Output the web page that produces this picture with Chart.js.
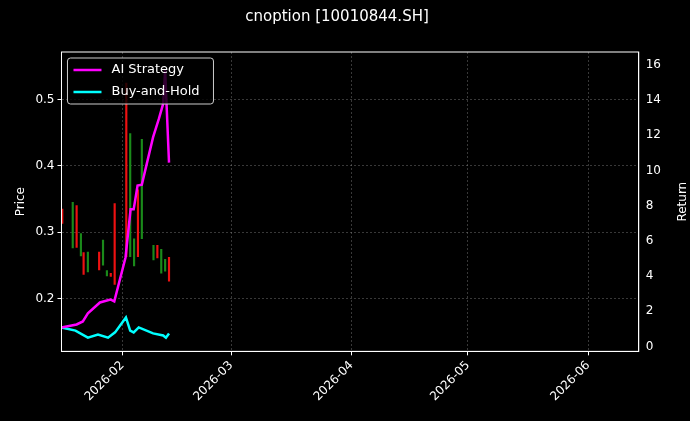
<!DOCTYPE html>
<html>
<head>
<script src="https://cdn.jsdelivr.net/npm/chart.js@4"></script>
<style>body{margin:0;background:#000}</style>
</head>
<body>
<canvas id="c" width="690" height="421"></canvas>
<script>
// x values are day numbers of 2026 (Jan 1 = 0)
let candleDays = [15.5, 18.2, 19.2, 20.3, 21, 22.1, 25, 26, 27, 28, 29, 32, 33, 34, 35, 36, 39, 40, 41, 42, 43];
let candleLow  = [0.313, 0.276, 0.277, 0.264, 0.236, 0.240, 0.243, 0.250, 0.234, 0.238, 0.221, 0.263, 0.263, 0.249, 0.263, 0.290, 0.258, 0.280, 0.274, 0.259, 0.226];
let candleHigh = [0.335, 0.345, 0.340, 0.298, 0.269, 0.270, 0.270, 0.288, 0.242, 0.233, 0.343, 0.525, 0.449, 0.290, 0.364, 0.440, 0.280, 0.261, 0.238, 0.241, 0.262];
let candleUp   = [false, true, false, true, false, true, false, true, true, false, false, false, true, true, false, true, true, false, true, true, false];

let aiDays = [15.3, 19.2, 20.8, 22.1, 25.2, 27.9, 28.9, 31.8, 33.1, 33.9, 34.9, 36, 38.9, 40.4, 41.5, 42, 43];
let aiReturn = [1.08, 1.25, 1.42, 1.88, 2.5, 2.67, 2.56, 5.06, 7.8, 7.8, 9.15, 9.2, 11.9, 12.95, 13.8, 15.7, 10.45];
let bhDays = [15.3, 18.9, 22.1, 24.7, 27.3, 29.1, 31.9, 33, 33.9, 35.2, 38.9, 41.5, 42.2, 43];
let bhReturn = [1.08, 0.9, 0.5, 0.68, 0.5, 0.8, 1.65, 0.9, 0.8, 1.08, 0.74, 0.62, 0.5, 0.74];

let monthTicks = [31, 59, 90, 120, 151];
let monthLabels = ['2026-02', '2026-03', '2026-04', '2026-05', '2026-06'];

// candle bodies were thin; show high-low as floating bars
let candleData = candleDays.map((d, i) => ({x: d, y: [candleLow[i], candleHigh[i]]}));
let candleColors = candleUp.map(u => u ? '#1a8a1a' : '#ee1111');

let legendBox = {
    id: 'legendBox',
    afterDraw(chart) {
        let ctx = chart.ctx, a = chart.chartArea;
        let x = a.left + 6, y = a.top + 6;
        ctx.save();
        ctx.fillStyle = 'rgba(0,0,0,0.8)';
        ctx.strokeStyle = '#cccccc';
        ctx.lineWidth = 1;
        ctx.beginPath();
        ctx.roundRect(x, y, 146, 46, 3);
        ctx.fill();
        ctx.stroke();
        let items = [['AI Strategy', '#ff00ff'], ['Buy-and-Hold', '#00ffff']];
        ctx.font = '13px "DejaVu Sans"';
        ctx.textBaseline = 'middle';
        items.forEach((it, i) => {
            let yy = y + 12 + i * 22;
            ctx.strokeStyle = it[1];
            ctx.lineWidth = 2.5;
            ctx.beginPath();
            ctx.moveTo(x + 6, yy);
            ctx.lineTo(x + 34, yy);
            ctx.stroke();
            ctx.fillStyle = '#ffffff';
            ctx.fillText(it[0], x + 44, yy);
        });
        // right axis title, reading bottom-to-top
        ctx.font = '12px "DejaVu Sans"';
        ctx.textAlign = 'center';
        ctx.translate(a.right + 44, (a.top + a.bottom) / 2);
        ctx.rotate(-Math.PI / 2);
        ctx.fillText('Return', 0, 0);
        ctx.restore();
    }
};

let chart = new Chart(document.getElementById('c').getContext('2d'), {
    data: {
        datasets: [
            {type: 'line', label: 'AI Strategy', data: aiDays.map((d, i) => ({x: d, y: aiReturn[i]})),
             borderColor: '#ff00ff', borderWidth: 2.5, pointRadius: 0, yAxisID: 'yRet', tension: 0},
            {type: 'line', label: 'Buy-and-Hold', data: bhDays.map((d, i) => ({x: d, y: bhReturn[i]})),
             borderColor: '#00ffff', borderWidth: 2.5, pointRadius: 0, yAxisID: 'yRet', tension: 0},
            {type: 'bar', label: 'Price', data: candleData, backgroundColor: candleColors,
             barThickness: 1.5, yAxisID: 'yPrice'}
        ]
    },
    options: {
        responsive: false,
        animation: false,
        layout: {padding: {left: 10, right: 26, top: 0, bottom: 14}},
        plugins: {
            legend: {display: false},
            tooltip: {enabled: false},
            title: {display: true, text: 'cnoption [10010844.SH]', color: '#ffffff',
                    font: {family: 'DejaVu Sans', size: 15, weight: 'normal'}, padding: {top: 8, bottom: 26}}
        },
        scales: {
            x: {
                type: 'linear', min: 15.3, max: 164, offset: false,
                afterBuildTicks: s => { s.ticks = monthTicks.map(v => ({value: v})); },
                ticks: {color: '#ffffff', font: {family: 'DejaVu Sans', size: 12}, maxRotation: 45, minRotation: 45,
                        callback: v => monthLabels[monthTicks.indexOf(v)]},
                grid: {offset: false, color: 'rgba(160,160,160,0.35)', tickColor: '#ffffff', tickLength: 4},
                border: {color: '#ffffff', dash: [2, 2]}
            },
            yPrice: {
                position: 'left', min: 0.12, max: 0.572,
                afterBuildTicks: s => { s.ticks = [0.2, 0.3, 0.4, 0.5].map(v => ({value: v})); },
                ticks: {color: '#ffffff', font: {family: 'DejaVu Sans', size: 12}, callback: v => v.toFixed(1)},
                title: {display: true, text: 'Price', color: '#ffffff', font: {family: 'DejaVu Sans', size: 12}},
                grid: {color: 'rgba(160,160,160,0.35)', tickColor: '#ffffff', tickLength: 4},
                border: {color: '#ffffff', dash: [2, 2]}
            },
            yRet: {
                position: 'right', min: -0.28, max: 16.74,
                afterBuildTicks: s => { s.ticks = [0, 2, 4, 6, 8, 10, 12, 14, 16].map(v => ({value: v})); },
                ticks: {color: '#ffffff', font: {family: 'DejaVu Sans', size: 12}},
                grid: {display: false, tickColor: '#ffffff', tickLength: 4},
                border: {color: '#ffffff'}
            }
        }
    },
    plugins: [legendBox, {
        id: 'frame',
        beforeDraw(c) { c.ctx.fillStyle = '#000'; c.ctx.fillRect(0, 0, c.width, c.height); },
        afterDraw(c) {
            let a = c.chartArea, ctx = c.ctx;
            ctx.save(); ctx.strokeStyle = '#ffffff'; ctx.lineWidth = 1;
            ctx.strokeRect(a.left, a.top, a.right - a.left, a.bottom - a.top); ctx.restore();
        }
    }]
});
</script>
</body>
</html>
